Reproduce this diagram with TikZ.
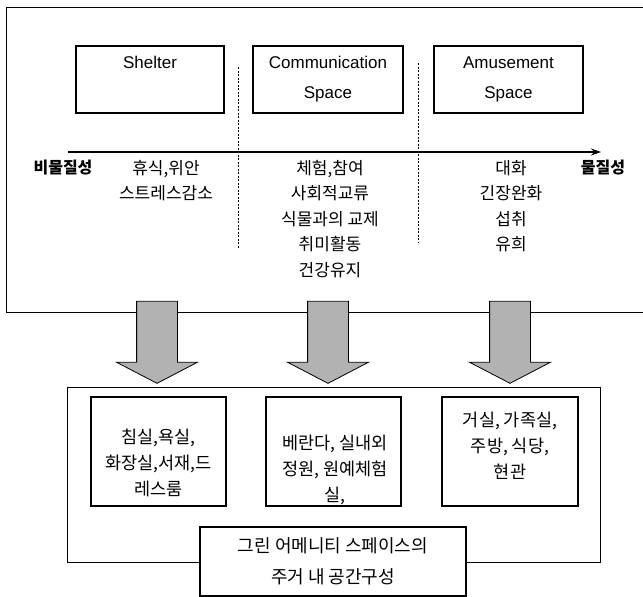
\documentclass[tikz,border=0pt]{standalone}
\usepackage{fontspec}
\setmainfont{Liberation Sans}
\newfontfamily\kr{Noto Sans CJK KR}
\usepackage{tikz}
\usetikzlibrary{shapes.arrows, arrows.meta, positioning}

\begin{document}
\begin{tikzpicture}[x=1pt, y=-1pt,
    spacebox/.style={draw, line width=1.2pt, minimum height=67pt, inner sep=0pt, align=center, font=\fontsize{17}{30}\selectfont},
    coltext/.style={anchor=north, inner sep=0pt, align=center, font=\kr\fontsize{17}{25.5}\selectfont},
    polelabel/.style={inner sep=0pt, font=\kr\bfseries\fontsize{16}{18}\selectfont},
    roombox/.style={draw, line width=1.2pt, minimum width=135pt, minimum height=109pt},
    roomtext/.style={anchor=north, inner sep=0pt, align=center, font=\kr\fontsize{17.5}{26}\selectfont},
    bigarrow/.style={single arrow, draw, fill=gray!60, line width=0.8pt, rotate=-90, minimum height=82pt, inner xsep=0pt, inner ysep=20pt, single arrow head extend=20pt, single arrow tip angle=125},
    axis/.style={-{Stealth[length=10pt, width=7pt]}, line width=1.4pt},
    divider/.style={line width=0.7pt, dash pattern=on 2pt off 1.5pt}
]
\useasboundingbox (0,0) rectangle (643,597);

% Upper frame
\draw[line width=0.9pt] (643,7) -- (6,7) -- (6,312) -- (643,312);

% Spaces
\node[spacebox, minimum width=148pt] (shelter) at (150,79.5) {Shelter\\\phantom{Space}};
\node[spacebox, minimum width=150pt] (communication) at (328,79.5) {Communication\\Space};
\node[spacebox, minimum width=149pt] (amusement) at (508.5,79.5) {Amusement\\Space};

% Axis
\coordinate (axisstart) at (68,152);
\coordinate (axisend) at (601,152);
\draw[axis] (axisstart) -- (axisend);

\node[polelabel] (immaterial) at (63,168) {비물질성};
\node[polelabel] (material) at (603,168) {물질성};

% Dividers
\coordinate (divAtop) at (238,67);
\coordinate (divAbot) at (238,248);
\coordinate (divBtop) at (418,63);
\coordinate (divBbot) at (418,243);
\draw[divider] (divAtop) -- (divAbot);
\draw[divider] (divBtop) -- (divBbot);

% Activities
\node[coltext] (restcol) at (166,160) {휴식,위안\\스트레스감소};
\node[coltext] (commcol) at (330,160) {체험,참여\\사회적교류\\식물과의 교제\\취미활동\\건강유지};
\node[coltext] (amusecol) at (511,160) {대화\\긴장완화\\섭취\\유희};

% Arrows
\node[bigarrow] (arrowA) at (157,337) {};
\node[bigarrow] (arrowB) at (328,337) {};
\node[bigarrow] (arrowC) at (510,337) {};

% Lower frame
\node[draw, line width=1pt, minimum width=533pt, minimum height=175pt] (housing) at (333.5,474.5) {};

% Rooms
\node[roombox] (bedroom) at (158.5,451.5) {};
\node[roombox] (garden) at (333.5,451.5) {};
\node[roombox, minimum width=136pt] (living) at (510,451.5) {};

\node[roomtext] (bedroomtext) at (158.5,428.5) {침실,욕실,\\화장실,서재,드\\레스룸};
\node[roomtext] (gardentext) at (335,434.5) {베란다, 실내외\\정원, 원예체험\\실,};
\node[roomtext] (livingtext) at (510,411.5) {거실, 가족실,\\주방, 식당,\\현관};

% Caption
\node[draw, fill=white, line width=1.5pt, minimum width=266pt, minimum height=69pt, align=center, font=\kr\fontsize{18}{31}\selectfont] (caption) at (333,561.5) {그린 어메니티 스페이스의\\주거 내 공간구성};

\end{tikzpicture}
\end{document}
